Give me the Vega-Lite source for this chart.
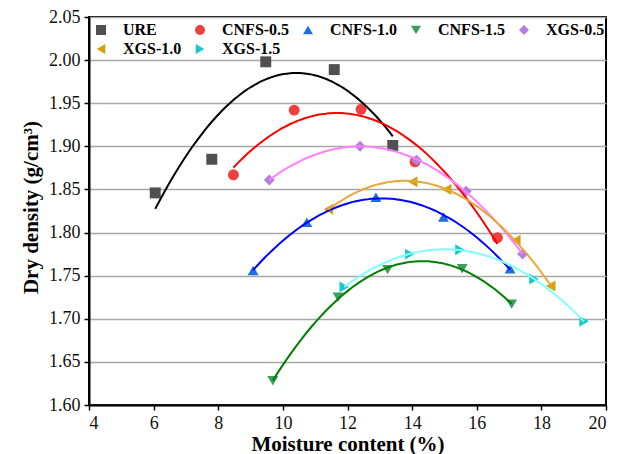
{
  "$schema": "https://vega.github.io/schema/vega-lite/v6.json",
  "width": 517,
  "height": 388,
  "autosize": {"type": "none"},
  "padding": {"left": 89, "top": 17, "right": 11, "bottom": 49},
  "background": "white",
  "config": {
    "view": {"stroke": "black", "strokeWidth": 2},
    "font": "Liberation Serif",
    "axis": {
      "labelFont": "Liberation Serif",
      "labelFontSize": 18,
      "labelColor": "#111",
      "titleFont": "Liberation Serif",
      "titleFontSize": 21,
      "titleFontWeight": "bold",
      "titleColor": "black",
      "domainColor": "black",
      "domainWidth": 2,
      "tickColor": "black",
      "tickWidth": 1.5,
      "tickSize": 5,
      "labelPadding": 4
    }
  },
  "data": {"values": [
    {"series": "URE", "x": 6.05, "y": 1.846},
    {"series": "URE", "x": 7.80, "y": 1.885},
    {"series": "URE", "x": 9.47, "y": 1.998},
    {"series": "URE", "x": 11.59, "y": 1.989},
    {"series": "URE", "x": 13.40, "y": 1.901},
    {"series": "CNFS-0.5", "x": 8.47, "y": 1.867},
    {"series": "CNFS-0.5", "x": 10.35, "y": 1.942},
    {"series": "CNFS-0.5", "x": 12.42, "y": 1.943},
    {"series": "CNFS-0.5", "x": 14.09, "y": 1.882},
    {"series": "CNFS-0.5", "x": 16.64, "y": 1.794},
    {"series": "CNFS-1.0", "x": 9.08, "y": 1.756},
    {"series": "CNFS-1.0", "x": 10.74, "y": 1.812},
    {"series": "CNFS-1.0", "x": 12.88, "y": 1.841},
    {"series": "CNFS-1.0", "x": 14.97, "y": 1.818},
    {"series": "CNFS-1.0", "x": 17.03, "y": 1.758},
    {"series": "CNFS-1.5", "x": 9.69, "y": 1.628},
    {"series": "CNFS-1.5", "x": 11.71, "y": 1.725},
    {"series": "CNFS-1.5", "x": 13.24, "y": 1.757},
    {"series": "CNFS-1.5", "x": 15.55, "y": 1.758},
    {"series": "CNFS-1.5", "x": 17.08, "y": 1.717},
    {"series": "XGS-0.5", "x": 9.58, "y": 1.861},
    {"series": "XGS-0.5", "x": 12.39, "y": 1.900},
    {"series": "XGS-0.5", "x": 14.14, "y": 1.884},
    {"series": "XGS-0.5", "x": 15.67, "y": 1.848},
    {"series": "XGS-0.5", "x": 17.42, "y": 1.775},
    {"series": "XGS-1.0", "x": 11.41, "y": 1.827},
    {"series": "XGS-1.0", "x": 14.02, "y": 1.859},
    {"series": "XGS-1.0", "x": 15.07, "y": 1.850},
    {"series": "XGS-1.0", "x": 17.21, "y": 1.791},
    {"series": "XGS-1.0", "x": 18.29, "y": 1.738},
    {"series": "XGS-1.5", "x": 11.90, "y": 1.737},
    {"series": "XGS-1.5", "x": 13.93, "y": 1.775},
    {"series": "XGS-1.5", "x": 15.48, "y": 1.780},
    {"series": "XGS-1.5", "x": 17.77, "y": 1.746},
    {"series": "XGS-1.5", "x": 19.32, "y": 1.697}
  ]},
  "encoding": {
    "x": {
      "field": "x", "type": "quantitative",
      "scale": {"domain": [4, 20], "nice": false, "zero": false},
      "axis": {"title": "Moisture content (%)", "values": [4, 6, 8, 10, 12, 14, 16, 18, 20], "grid": false, "titleBaseline": "alphabetic", "titleY": 45}
    },
    "y": {
      "field": "y", "type": "quantitative",
      "scale": {"domain": [1.6, 2.05], "nice": false, "zero": false},
      "axis": {
        "title": "Dry density (g/cm³)", "format": ".2f",
        "values": [1.6, 1.65, 1.7, 1.75, 1.8, 1.85, 1.9, 1.95, 2.0, 2.05],
        "grid": true, "gridColor": "#a8a8a8", "gridWidth": 1.5,
        "titleBaseline": "alphabetic", "titleX": -52, "titleY": 190
      }
    }
  },
  "layer": [
    {
      "mark": {"type": "point", "filled": true, "size": 120, "opacity": 1},
      "encoding": {
        "fill": {
          "field": "series", "type": "nominal",
          "scale": {
            "domain": ["URE", "CNFS-0.5", "CNFS-1.0", "CNFS-1.5", "XGS-0.5", "XGS-1.0", "XGS-1.5"],
            "range": ["#505050", "#ef4040", "#1e6fe0", "#3a9e5f", "#b27ee0", "#d4a010", "#18c8c8"]
          },
          "legend": {
            "title": null, "orient": "none", "legendX": 4, "legendY": 5,
            "direction": "horizontal", "columns": 5, "gridAlign": "each",
            "columnPadding": 10, "rowPadding": 3, "padding": 0,
            "symbolSize": 100, "symbolStrokeWidth": 0, "labelOffset": 14,
            "labelFont": "Liberation Serif", "labelFontSize": 16, "labelFontWeight": "bold", "labelColor": "black"
          }
        },
        "shape": {
          "field": "series", "type": "nominal",
          "scale": {
            "domain": ["URE", "CNFS-0.5", "CNFS-1.0", "CNFS-1.5", "XGS-0.5", "XGS-1.0", "XGS-1.5"],
            "range": ["square", "circle", "triangle-up", "triangle-down", "diamond", "triangle-left", "triangle-right"]
          }
        }
      }
    },
    {
      "transform": [
        {"regression": "y", "on": "x", "groupby": ["series"], "method": "poly", "order": 2}
      ],
      "mark": {"type": "line", "strokeWidth": 2, "interpolate": "monotone"},
      "encoding": {
        "stroke": {
          "field": "series", "type": "nominal",
          "scale": {
            "domain": ["URE", "CNFS-0.5", "CNFS-1.0", "CNFS-1.5", "XGS-0.5", "XGS-1.0", "XGS-1.5"],
            "range": ["#000000", "#ff0000", "#0000ff", "#008000", "#ff80ff", "#e8a838", "#80ffff"]
          },
          "legend": null
        }
      }
    }
  ]
}
